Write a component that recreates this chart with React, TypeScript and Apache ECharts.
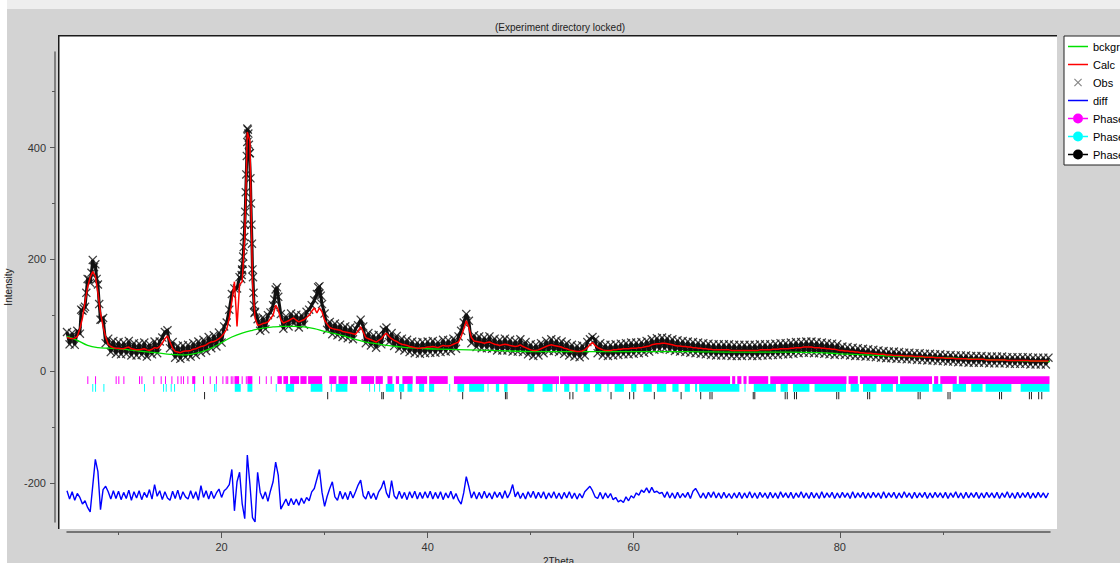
import React, { useEffect, useRef } from 'react';
import * as echarts from 'echarts';

const FONT = '"Liberation Sans", Arial, sans-serif';

// measurement grid (2Theta)
const THETA_START = 5;
const THETA_STEP = 0.25;

// observed intensity, one value per THETA_STEP from THETA_START
const obs = [
  70, 48, 68, 47, 72, 67, 108, 115, 165, 158, 199, 191, 155, 92, 95, 50, 58, 34, 54, 31,
  52, 30, 51, 31, 54, 28, 50, 28, 49, 29, 51, 26, 48, 30, 53, 32, 53, 60, 70, 73,
  41, 52, 24, 45, 22, 46, 25, 47, 26, 50, 29, 53, 33, 56, 36, 61, 41, 64, 44, 69,
  51, 80, 87, 110, 138, 148, 148, 168, 182, 262, 434, 390, 182, 106, 93, 72, 96, 75, 100, 105,
  118, 146, 133, 102, 76, 98, 80, 103, 85, 101, 78, 100, 83, 106, 110, 118, 127, 138, 152, 120,
  103, 74, 88, 66, 85, 64, 83, 61, 80, 59, 78, 57, 76, 82, 92, 80, 50, 68, 46, 64,
  42, 65, 48, 74, 78, 52, 68, 45, 63, 40, 58, 37, 56, 34, 53, 32, 51, 31, 52, 32,
  53, 33, 54, 33, 52, 34, 56, 35, 55, 36, 58, 40, 62, 72, 87, 102, 90, 50, 64, 43,
  62, 41, 60, 41, 62, 40, 58, 37, 56, 37, 58, 37, 56, 35, 54, 35, 57, 34, 52, 30,
  48, 27, 47, 28, 50, 32, 54, 36, 57, 36, 55, 34, 53, 31, 50, 28, 47, 26, 45, 25,
  46, 28, 52, 57, 61, 56, 32, 50, 28, 47, 27, 47, 28, 48, 29, 49, 30, 50, 30, 51,
  31, 51, 32, 52, 33, 54, 35, 57, 38, 59, 39, 60, 40, 59, 38, 57, 36, 55, 35, 54,
  34, 53, 33, 52, 32, 51, 31, 50, 30, 49, 29, 48, 28, 48, 28, 48, 28, 48, 27, 47,
  27, 47, 27, 47, 28, 47, 27, 47, 27, 48, 28, 48, 28, 48, 29, 49, 29, 50, 30, 50,
  30, 51, 31, 52, 32, 52, 33, 53, 33, 53, 32, 52, 32, 51, 31, 50, 30, 49, 29, 48,
  30, 44, 29, 43, 28, 42, 27, 41, 27, 40, 26, 39, 26, 38, 25, 37, 24, 36, 23, 35,
  23, 35, 22, 34, 22, 33, 21, 33, 21, 32, 20, 32, 20, 31, 19, 31, 19, 30, 18, 30,
  18, 29, 17, 29, 17, 28, 16, 28, 16, 28, 15, 27, 15, 27, 15, 27, 15, 26, 14, 26,
  14, 26, 14, 26, 14, 25, 13, 25, 13, 25, 13, 25, 13, 25, 12, 24, 12, 24, 12, 24,
  12, 24,
];

// extra observed points on the steep peak flanks [2Theta, intensity]
const obsPeakPoints = [
  [6.375, 110], [6.625, 112], [6.875, 140], [7.125, 164], [7.375, 176], [7.625, 186], [7.875, 165], [8.125, 120], [8.375, 92],
  [21.9, 165], [21.95, 172], [22.0, 180], [22.05, 192], [22.1, 205], [22.15, 222], [22.2, 240], [22.3, 285], [22.35, 320],
  [22.4, 352], [22.45, 385], [22.5, 410], [22.55, 432], [22.6, 425], [22.65, 405], [22.7, 390], [22.8, 345], [22.85, 300],
  [22.9, 262], [22.95, 228], [23.05, 168], [23.1, 140], [23.15, 118], [23.2, 104],
  [25.125, 128], [25.375, 150], [29.375, 150], [29.45, 138], [29.625, 135],
];

// calculated profile, one value per THETA_STEP
const calc = [
  60, 59, 58, 59, 62, 76, 95, 124, 150, 168, 178, 170, 140, 104, 80, 61, 48, 44, 42, 41,
  41, 40, 40, 42, 43, 40, 39, 38, 38, 39, 40, 38, 37, 39, 42, 41, 44, 50, 58, 63,
  52, 41, 35, 34, 33, 35, 36, 36, 37, 39, 40, 42, 44, 45, 47, 50, 52, 53, 55, 58,
  62, 68, 75, 95, 125, 160, 80, 155, 160, 240, 428, 412, 160, 95, 82, 83, 85, 86, 88, 94,
  100, 118, 110, 92, 86, 88, 90, 93, 95, 91, 88, 90, 92, 96, 100, 107, 113, 104, 113, 106,
  91, 84, 78, 76, 75, 74, 73, 71, 70, 69, 68, 67, 66, 72, 79, 70, 60, 58, 56, 54,
  52, 55, 58, 64, 68, 62, 58, 55, 53, 50, 48, 47, 46, 44, 43, 42, 41, 41, 42, 42,
  43, 43, 44, 43, 42, 44, 46, 45, 45, 46, 48, 50, 52, 62, 75, 90, 78, 60, 54, 53,
  52, 51, 50, 51, 52, 50, 48, 47, 46, 47, 48, 47, 46, 45, 44, 45, 47, 44, 42, 40,
  38, 37, 37, 38, 40, 42, 44, 46, 47, 46, 45, 44, 43, 41, 40, 38, 37, 36, 35, 35,
  36, 38, 42, 47, 51, 46, 42, 40, 38, 37, 37, 37, 38, 38, 39, 39, 40, 40, 40, 41,
  41, 41, 42, 42, 43, 44, 45, 47, 48, 49, 49, 50, 50, 49, 48, 47, 46, 45, 45, 44,
  44, 43, 43, 42, 42, 41, 41, 40, 40, 39, 39, 38, 38, 38, 38, 38, 38, 38, 37, 37,
  37, 37, 37, 37, 37, 37, 37, 37, 37, 38, 38, 38, 38, 38, 39, 39, 39, 40, 40, 40,
  40, 41, 41, 42, 42, 42, 43, 43, 43, 43, 42, 42, 42, 41, 41, 40, 40, 39, 39, 38,
  37, 37, 36, 36, 35, 35, 34, 34, 33, 33, 32, 32, 32, 31, 31, 30, 30, 30, 29, 29,
  29, 28, 28, 28, 28, 27, 27, 27, 27, 26, 26, 26, 26, 25, 25, 25, 25, 24, 24, 24,
  24, 23, 23, 23, 23, 22, 22, 22, 22, 22, 21, 21, 21, 21, 21, 21, 21, 20, 20, 20,
  20, 20, 20, 20, 20, 19, 19, 19, 19, 19, 19, 19, 19, 19, 18, 18, 18, 18, 18, 18,
  18, 18,
];

// difference curve (plotted offset), one value per THETA_STEP
const diff = [
  -214, -229, -216, -231, -219, -226, -238, -232, -244, -252, -205, -158, -180, -248, -212, -206, -216, -229, -214, -228,
  -215, -230, -217, -228, -213, -231, -216, -227, -214, -230, -217, -226, -212, -229, -203, -224, -214, -230, -216, -227,
  -231, -215, -228, -213, -230, -216, -225, -229, -214, -228, -216, -231, -205, -226, -214, -229, -215, -228, -218, -211,
  -226, -214, -210, -203, -176, -250, -198, -181, -237, -264, -150, -202, -262, -270, -181, -217, -229, -216, -233, -214,
  -198, -163, -186, -247, -238, -229, -241, -228, -239, -229, -240, -227, -237, -226, -232, -216, -210, -193, -176, -217,
  -242, -224, -210, -198, -225, -231, -215, -229, -217, -230, -215, -227, -216, -204, -195, -223, -229, -215, -228, -218,
  -230, -216, -209, -196, -218, -227, -196, -223, -229, -215, -228, -217, -230, -216, -227, -215, -229, -217, -228, -216,
  -227, -215, -229, -217, -228, -216, -230, -218, -227, -215, -229, -219, -231, -238, -218, -189, -207, -227, -216, -229,
  -217, -228, -215, -227, -218, -229, -216, -226, -217, -228, -214, -227, -218, -203, -225, -216, -228, -218, -229, -216,
  -226, -215, -228, -217, -227, -216, -229, -218, -227, -216, -228, -218, -229, -217, -227, -216, -228, -218, -229, -219,
  -227, -216, -211, -206, -214, -225, -228, -217, -229, -218, -227, -219, -230, -226, -234, -231, -235, -225, -232, -223,
  -227, -218, -222, -213, -217, -209, -218, -208, -217, -215, -219, -217, -226, -216, -227, -218, -228, -217, -227, -219,
  -226, -217, -228, -215, -210, -218, -227, -218, -228, -217, -226, -216, -227, -218, -228, -217, -227, -219, -228, -218,
  -227, -217, -228, -218, -227, -216, -227, -218, -228, -217, -226, -218, -228, -217, -227, -218, -228, -216, -226, -218,
  -227, -217, -228, -218, -226, -216, -227, -218, -228, -217, -227, -218, -228, -216, -227, -218, -226, -217, -228, -218,
  -227, -217, -226, -218, -228, -216, -227, -218, -226, -217, -228, -218, -227, -217, -226, -218, -228, -216, -227, -218,
  -226, -217, -228, -218, -227, -216, -226, -218, -228, -217, -227, -218, -226, -217, -228, -218, -227, -217, -226, -218,
  -227, -217, -228, -218, -226, -216, -227, -218, -228, -217, -227, -218, -226, -217, -228, -218, -227, -217, -226, -218,
  -227, -217, -228, -218, -226, -216, -227, -218, -228, -217, -227, -218, -226, -217, -228, -218, -227, -217, -226, -218,
  -227, -218,
];

// background [2Theta, intensity]
const bckgr = [
  [5, 62], [6, 55], [7, 46], [8, 42], [9, 41], [10, 40], [11, 38], [12, 36], [13, 34], [14, 32], [15, 30],
  [16, 29], [17, 30], [18, 34], [19, 41], [20, 51], [21, 61], [22, 68], [23, 73], [24, 77], [25, 79],
  [26, 80], [27, 80], [28, 79], [29, 76], [30, 71], [31, 67], [32, 62], [33, 57], [34, 52], [35, 49],
  [36, 46], [37, 44], [38, 42], [40, 40], [42, 39], [44, 38], [46, 37], [48, 36], [50, 35], [55, 35],
  [60, 35], [65, 35], [70, 34], [75, 34], [78, 33], [80, 31], [85, 27], [90, 24], [95, 20], [100.4, 17],
];

// reflection positions, [from, to] in 2Theta
const phase1Refl = [
  [7.02, 7.02], [7.77, 7.77], [9.77, 9.77], [10.03, 10.03], [10.52, 10.52], [12.04, 12.04], [12.27, 12.27],
  [13.43, 13.43], [14.14, 14.14], [14.56, 14.56], [15.18, 15.18], [15.76, 15.76], [16.08, 16.08], [16.31, 16.31],
  [16.73, 16.73], [17.2, 17.5], [18.25, 18.25], [18.9, 18.9], [19.5, 19.5], [20.13, 20.13], [20.45, 20.45],
  [20.6, 20.6], [20.94, 20.94], [21.1, 21.1], [21.3, 21.75], [22.0, 22.0], [22.4, 22.4], [22.55, 23.04],
  [23.69, 23.69], [24.34, 24.34], [24.82, 24.82], [25.47, 25.9], [26.05, 26.5], [26.7, 27.57], [27.7, 28.3],
  [28.45, 29.8], [30.5, 31.2], [31.4, 32.3], [32.5, 33.2], [33.6, 34.85], [35.0, 35.7], [36.15, 36.63],
  [36.96, 37.28], [37.6, 38.6], [38.9, 40.0], [40.2, 42.0], [42.6, 52.8], [52.9, 69.4], [69.6, 69.9],
  [70.1, 70.5], [70.7, 71.0], [71.2, 73.1], [73.3, 80.7], [80.9, 81.8], [82.0, 85.7], [85.9, 89.0],
  [89.2, 89.6], [89.8, 91.4], [91.6, 100.4],
];
const phase2Refl = [
  [7.5, 7.5], [7.77, 7.77], [8.58, 8.58], [12.52, 12.52], [14.37, 14.37], [14.63, 14.63], [15.11, 15.11],
  [15.44, 15.44], [17.38, 17.38], [19.32, 19.32], [19.48, 19.48], [21.33, 21.91], [22.56, 23.04], [25.31, 25.31],
  [26.28, 27.09], [28.7, 29.84], [30.65, 30.65], [31.13, 32.26], [34.37, 34.37], [34.85, 34.85], [35.34, 35.34],
  [35.99, 36.8], [37.28, 37.77], [38.09, 38.57], [39.22, 39.71], [40.19, 40.68], [42.14, 42.14], [42.94, 43.59],
  [44.08, 45.53], [45.86, 45.86], [46.67, 46.99], [47.48, 47.8], [49.74, 50.39], [51.2, 52.17], [52.5, 52.5],
  [53.3, 53.8], [54.4, 54.6], [55.2, 55.8], [56.3, 56.9], [57.5, 57.6], [58.2, 59.1], [59.8, 60.3], [61.0, 61.8],
  [62.3, 63.2], [63.8, 64.4], [65.0, 65.5], [66.0, 66.2], [66.4, 70.3], [70.8, 70.9], [71.7, 73.85], [74.3, 75.0],
  [75.5, 77.1], [77.6, 80.65], [81.1, 81.9], [82.3, 83.6], [84.05, 85.2], [85.5, 88.7], [89.05, 90.0],
  [91.0, 92.3], [92.8, 93.9], [94.2, 96.7], [97.6, 100.4],
];
const phase3Refl = [
  [18.35, 18.35], [30.3, 30.3], [35.55, 35.55], [35.7, 35.7], [37.4, 37.4], [43.4, 43.4], [47.55, 47.55],
  [47.7, 47.7], [53.8, 53.8], [54.1, 54.1], [57.8, 57.8], [59.6, 59.6], [60.0, 60.0], [62.0, 62.0], [64.6, 64.6],
  [66.5, 66.5], [67.4, 67.4], [67.6, 67.6], [71.6, 71.6], [71.75, 71.75], [74.7, 74.7], [74.9, 74.9],
  [75.6, 75.6], [75.8, 75.8], [79.7, 79.7], [79.9, 79.9], [82.7, 82.7], [82.9, 82.9], [87.6, 87.6],
  [87.8, 87.8], [90.5, 90.5], [90.7, 90.7], [95.5, 95.5], [95.7, 95.7], [98.4, 98.4], [98.6, 98.6],
  [99.3, 99.3], [99.6, 99.6],
];

// tick values
const xMajorTicks = [20, 40, 60, 80];
const xMinorTicks = [10, 30, 50, 70, 90];
const yMajorTicks = [-200, 0, 200, 400];
const yMinorTicks = [-100, 100, 300, 500];

const X_MIN = 5;
const X_MAX = 100.4;
const Y_MIN = -270;
const Y_MAX = 571;

const crossPath = 'path://M0,0.8L0.8,0L4,3.2L7.2,0L8,0.8L4.8,4L8,7.2L7.2,8L4,4.8L0.8,8L0,7.2L3.2,4Z';
const crossIcon =
  'path://M-6,-1L-5.99,-1L-6,-0.99Z M14,9L13.99,9L14,8.99Z M0,0.8L0.8,0L4,3.2L7.2,0L8,0.8L4.8,4L8,7.2L7.2,8L4,4.8L0.8,8L0,7.2L3.2,4Z';
const lineIcon = 'path://M0,0H20V1.5H0Z';
const phaseIcon = 'path://M0,4.25H5V5.75H0Z M15,4.25H20V5.75H15Z M15,5A5,5 0 1,1 5,5A5,5 0 1,1 15,5Z';

const makeTickRender = (level: number, span: number) => (params: any, api: any) => {
  const s = api.coord([api.value(0), level]);
  const e = api.coord([api.value(1), level]);
  const h = api.size([0, span])[1];
  const w = Math.max(1, e[0] - s[0]);
  return {
    type: 'rect',
    shape: { x: s[0] - 0.5, y: s[1] - h / 2, width: w, height: h },
    style: { fill: api.visual('color') },
  };
};

function buildOption() {
  const obsData: number[][] = obs.map((v, i) => [THETA_START + i * THETA_STEP, v]).concat(obsPeakPoints);
  const obsTrace = obsData.slice().sort((a, b) => a[0] - b[0]);
  const calcData = calc.map((v, i) => [THETA_START + i * THETA_STEP, v]);
  const diffData = diff.map((v, i) => [THETA_START + i * THETA_STEP, v]);

  const axisColor = '#555';
  const labelStyle = { color: '#333', fontSize: 11, fontFamily: FONT };

  return {
    animation: false,
    backgroundColor: '#ffffff',
    textStyle: { fontFamily: FONT },
    title: {
      text: '(Experiment directory locked)',
      left: 'center',
      top: 17,
      textStyle: { fontSize: 10, fontWeight: 'normal', color: '#222', fontFamily: FONT },
    },
    graphic: {
      elements: [
        { type: 'rect', silent: true, z: -10, shape: { x: 7, y: 0, width: 1113, height: 9 }, style: { fill: '#eeeeee' } },
        { type: 'rect', silent: true, z: -10, shape: { x: 7, y: 9, width: 1113, height: 554 }, style: { fill: '#d3d3d3' } },
        { type: 'rect', silent: true, z: -9, shape: { x: 58, y: 35, width: 999, height: 494 }, style: { fill: '#ffffff' } },
        {
          type: 'polyline', silent: true, z: -8,
          shape: { points: [[58.75, 529], [58.75, 35.75], [1057, 35.75]] },
          style: { stroke: '#1a1a1a', lineWidth: 1.5, fill: null },
        },
      ],
    },
    legend: {
      orient: 'vertical',
      left: 1064,
      top: 36,
      padding: [5, 40, 5, 4],
      itemWidth: 20,
      itemHeight: 11,
      itemGap: 7,
      backgroundColor: '#ffffff',
      borderColor: '#222',
      borderWidth: 1,
      selectedMode: false,
      itemStyle: { borderWidth: 0 },
      textStyle: { color: '#000', fontSize: 11, fontFamily: FONT },
      data: [
        { name: 'bckgr', icon: lineIcon, itemStyle: { color: '#00e000' } },
        { name: 'Calc', icon: lineIcon, itemStyle: { color: '#ff0000' } },
        { name: 'Obs', icon: crossIcon, itemStyle: { color: '#666666' } },
        { name: 'diff', icon: lineIcon, itemStyle: { color: '#0000ff' } },
        { name: 'Phase 1', icon: phaseIcon, itemStyle: { color: '#ff00ff' } },
        { name: 'Phase 2', icon: phaseIcon, itemStyle: { color: '#00ffff' } },
        { name: 'Phase 3', icon: phaseIcon, itemStyle: { color: '#000000' } },
      ],
    },
    grid: {
      left: 67,
      right: 70,
      top: 52,
      bottom: 41,
      containLabel: false,
      outerBoundsMode: 'none',
    },
    xAxis: [
      {
        type: 'value', min: X_MIN, max: X_MAX, position: 'bottom', offset: 10,
        axisLine: { show: true, onZero: false, lineStyle: { color: axisColor, width: 1.5 } },
        axisTick: { show: true, length: 6, customValues: xMajorTicks, lineStyle: { color: axisColor } },
        axisLabel: { customValues: xMajorTicks, margin: 9, ...labelStyle },
        splitLine: { show: false },
        name: '2Theta', nameLocation: 'middle', nameGap: 23,
        nameTextStyle: { fontSize: 10, color: '#222', fontFamily: FONT },
      },
      {
        type: 'value', min: X_MIN, max: X_MAX, position: 'bottom', offset: 10,
        axisLine: { show: false, onZero: false },
        axisTick: { show: true, length: 3, customValues: xMinorTicks, lineStyle: { color: axisColor } },
        axisLabel: { show: false },
        splitLine: { show: false },
      },
    ],
    yAxis: [
      {
        type: 'value', min: Y_MIN, max: Y_MAX, position: 'left', offset: 12,
        axisLine: { show: true, onZero: false, lineStyle: { color: '#666', width: 1.5 } },
        axisTick: { show: true, length: 5, customValues: yMajorTicks, lineStyle: { color: axisColor } },
        axisLabel: { customValues: yMajorTicks, margin: 9, ...labelStyle },
        splitLine: { show: false },
        name: 'Intensity', nameLocation: 'middle', nameGap: 29, nameRotate: 90,
        nameTextStyle: { fontSize: 10, color: '#222', fontFamily: FONT },
      },
      {
        type: 'value', min: Y_MIN, max: Y_MAX, position: 'left', offset: 12,
        axisLine: { show: false, onZero: false },
        axisTick: { show: true, length: 3, customValues: yMinorTicks, lineStyle: { color: axisColor } },
        axisLabel: { show: false },
        splitLine: { show: false },
      },
    ],
    series: [
      {
        name: 'obs trace', type: 'line', data: obsTrace, symbol: 'none', silent: true, clip: true,
        lineStyle: { color: '#111111', width: 3 }, itemStyle: { color: '#111111' },
      },
      {
        name: 'Obs', type: 'scatter', data: obsData, symbol: crossPath, symbolSize: 9,
        itemStyle: { color: '#111111' }, silent: true, clip: true,
      },
      {
        name: 'bckgr', type: 'line', data: bckgr, smooth: 0.4, symbol: 'none', silent: true, clip: true,
        lineStyle: { color: '#00e000', width: 1.3 }, itemStyle: { color: '#00e000' },
      },
      {
        name: 'Calc', type: 'line', data: calcData, symbol: 'none', silent: true, clip: true,
        lineStyle: { color: '#ff0000', width: 1.5 }, itemStyle: { color: '#ff0000' },
      },
      {
        name: 'diff', type: 'line', data: diffData, symbol: 'none', silent: true, clip: true,
        lineStyle: { color: '#0000ff', width: 1.4 }, itemStyle: { color: '#0000ff' },
      },
      {
        name: 'Phase 1', type: 'custom', data: phase1Refl, encode: { x: [0, 1] }, clip: true, silent: true,
        itemStyle: { color: '#ff00ff' }, renderItem: makeTickRender(-16, 14),
      },
      {
        name: 'Phase 2', type: 'custom', data: phase2Refl, encode: { x: [0, 1] }, clip: true, silent: true,
        itemStyle: { color: '#00ffff' }, renderItem: makeTickRender(-30, 14),
      },
      {
        name: 'Phase 3', type: 'custom', data: phase3Refl, encode: { x: [0, 1] }, clip: true, silent: true,
        itemStyle: { color: '#222222' }, renderItem: makeTickRender(-44, 13),
      },
    ],
  };
}

export default function App() {
  const ref = useRef<HTMLDivElement>(null);
  useEffect(() => {
    if (!ref.current) return;
    const chart = echarts.init(ref.current, undefined, { renderer: 'svg' });
    chart.setOption(buildOption() as any);
    return () => {
      chart.dispose();
    };
  }, []);
  return <div ref={ref} style={{ position: 'fixed', left: 0, top: 0, width: 1120, height: 563 }} />;
}
